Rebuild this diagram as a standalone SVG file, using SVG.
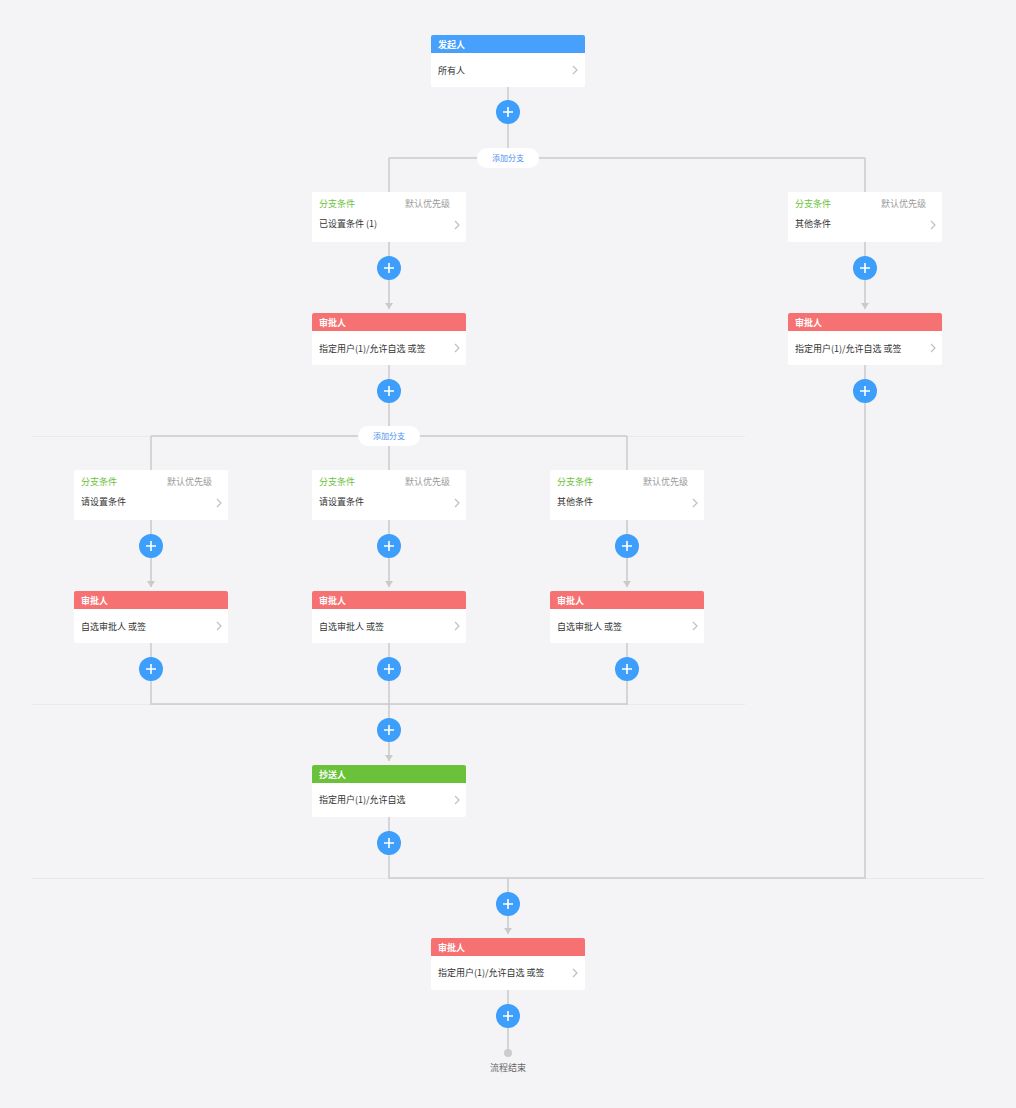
<svg xmlns="http://www.w3.org/2000/svg" width="1016" height="1108" viewBox="0 0 1016 1108">
<defs>
<style>
text{font-family:"Noto Sans CJK SC","Liberation Sans",sans-serif;font-size:9px}
.card{fill:#fff}
.hb{fill:#46a0fc}.hr{fill:#f67171}.hg{fill:#6ac23b}
.ht{fill:#fff;font-weight:bold}
.bt{fill:#333}
.ct{fill:#6ac23b}
.pt{fill:#9a9a9a;text-anchor:end}
.chev{fill:none;stroke:#c0c0c0;stroke-width:1.2}
.ln{stroke:#cacaca;stroke-width:1.5;fill:none}
.faint{stroke:#e9e9ec;stroke-width:1;fill:none}
.plus circle{fill:#3d9efc}
.plus path{stroke:#fff;stroke-width:1.6}
.pill rect{fill:#fff}
.pill text{fill:#4a90f0;text-anchor:middle;font-size:8px}
</style>
<marker id="arr" markerWidth="6" markerHeight="8" refX="6" refY="4" orient="auto" markerUnits="userSpaceOnUse" viewBox="0 0 6 8">
<path d="M0,0 L6,4 L0,8 Z" fill="#cacaca"/>
</marker>
</defs>
<rect width="1016" height="1108" fill="#f4f4f6"/>

<g id="dividers">
<line class="faint" x1="32" y1="436.5" x2="745" y2="436.5"/>
<line class="faint" x1="32" y1="704.5" x2="745" y2="704.5"/>
<line class="faint" x1="32" y1="878.5" x2="984" y2="878.5"/>
</g>

<g id="connectors">
<path class="ln" d="M508,87 V158 M389,158 H865 M389,158 V192 M865,158 V192"/>
<path class="ln" d="M389,242 V309" marker-end="url(#arr)"/>
<path class="ln" d="M865,242 V309" marker-end="url(#arr)"/>
<path class="ln" d="M389,365 V436 M151,436 H627 M151,436 V470 M389,436 V470 M627,436 V470"/>
<path class="ln" d="M151,520 V587" marker-end="url(#arr)"/>
<path class="ln" d="M389,520 V587" marker-end="url(#arr)"/>
<path class="ln" d="M627,520 V587" marker-end="url(#arr)"/>
<path class="ln" d="M151,643 V704 H627 V643 M389,643 V704"/>
<path class="ln" d="M389,704 V761" marker-end="url(#arr)"/>
<path class="ln" d="M389,817 V878 H865 V365"/>
<path class="ln" d="M508,878 V934" marker-end="url(#arr)"/>
<path class="ln" d="M508,990 V1053"/>
</g>

<g id="start">
<rect class="card" x="431" y="35" width="154" height="52" rx="2"/>
<path class="hb" d="M433,35 H583 A2,2 0 0 1 585,37 V53 H431 V37 A2,2 0 0 1 433,35 Z"/>
<text class="ht" x="438" y="48">发起人</text>
<text class="bt" x="438" y="74">所有人</text>
<polyline class="chev" points="573,66 577,70 573,74"/>
</g>

<g id="add1" class="plus"><circle cx="508" cy="112" r="12"/><path d="M503,112 H513 M508,107 V117"/></g>
<g id="branch1" class="pill"><rect x="477" y="148" width="62" height="20" rx="10"/><text x="508" y="161">添加分支</text></g>

<g id="cond1">
<rect class="card" x="312" y="192" width="154" height="50" rx="2"/>
<text class="ct" x="319" y="207">分支条件</text>
<text class="pt" x="450" y="207">默认优先级</text>
<text class="bt" x="319" y="227">已设置条件 (1)</text>
<polyline class="chev" points="455,221 459,225 455,229"/>
</g>
<g id="cond2">
<rect class="card" x="788" y="192" width="154" height="50" rx="2"/>
<text class="ct" x="795" y="207">分支条件</text>
<text class="pt" x="926" y="207">默认优先级</text>
<text class="bt" x="795" y="227">其他条件</text>
<polyline class="chev" points="931,221 935,225 931,229"/>
</g>

<g id="add2" class="plus"><circle cx="389" cy="268" r="12"/><path d="M384,268 H394 M389,263 V273"/></g>
<g id="add3" class="plus"><circle cx="865" cy="268" r="12"/><path d="M860,268 H870 M865,263 V273"/></g>

<g id="approver1">
<rect class="card" x="312" y="313" width="154" height="52" rx="2"/>
<path class="hr" d="M314,313 H464 A2,2 0 0 1 466,315 V331 H312 V315 A2,2 0 0 1 314,313 Z"/>
<text class="ht" x="319" y="326">审批人</text>
<text class="bt" x="319" y="352">指定用户(1)/允许自选 或签</text>
<polyline class="chev" points="455,344 459,348 455,352"/>
</g>
<g id="approver2">
<rect class="card" x="788" y="313" width="154" height="52" rx="2"/>
<path class="hr" d="M790,313 H940 A2,2 0 0 1 942,315 V331 H788 V315 A2,2 0 0 1 790,313 Z"/>
<text class="ht" x="795" y="326">审批人</text>
<text class="bt" x="795" y="352">指定用户(1)/允许自选 或签</text>
<polyline class="chev" points="931,344 935,348 931,352"/>
</g>

<g id="add4" class="plus"><circle cx="389" cy="391" r="12"/><path d="M384,391 H394 M389,386 V396"/></g>
<g id="add5" class="plus"><circle cx="865" cy="391" r="12"/><path d="M860,391 H870 M865,386 V396"/></g>
<g id="branch2" class="pill"><rect x="358" y="426" width="62" height="20" rx="10"/><text x="389" y="439">添加分支</text></g>

<g id="cond3">
<rect class="card" x="74" y="470" width="154" height="50" rx="2"/>
<text class="ct" x="81" y="485">分支条件</text>
<text class="pt" x="212" y="485">默认优先级</text>
<text class="bt" x="81" y="505">请设置条件</text>
<polyline class="chev" points="217,499 221,503 217,507"/>
</g>
<g id="cond4">
<rect class="card" x="312" y="470" width="154" height="50" rx="2"/>
<text class="ct" x="319" y="485">分支条件</text>
<text class="pt" x="450" y="485">默认优先级</text>
<text class="bt" x="319" y="505">请设置条件</text>
<polyline class="chev" points="455,499 459,503 455,507"/>
</g>
<g id="cond5">
<rect class="card" x="550" y="470" width="154" height="50" rx="2"/>
<text class="ct" x="557" y="485">分支条件</text>
<text class="pt" x="688" y="485">默认优先级</text>
<text class="bt" x="557" y="505">其他条件</text>
<polyline class="chev" points="693,499 697,503 693,507"/>
</g>

<g id="add6" class="plus"><circle cx="151" cy="546" r="12"/><path d="M146,546 H156 M151,541 V551"/></g>
<g id="add7" class="plus"><circle cx="389" cy="546" r="12"/><path d="M384,546 H394 M389,541 V551"/></g>
<g id="add8" class="plus"><circle cx="627" cy="546" r="12"/><path d="M622,546 H632 M627,541 V551"/></g>

<g id="approver3">
<rect class="card" x="74" y="591" width="154" height="52" rx="2"/>
<path class="hr" d="M76,591 H226 A2,2 0 0 1 228,593 V609 H74 V593 A2,2 0 0 1 76,591 Z"/>
<text class="ht" x="81" y="604">审批人</text>
<text class="bt" x="81" y="630">自选审批人 或签</text>
<polyline class="chev" points="217,622 221,626 217,630"/>
</g>
<g id="approver4">
<rect class="card" x="312" y="591" width="154" height="52" rx="2"/>
<path class="hr" d="M314,591 H464 A2,2 0 0 1 466,593 V609 H312 V593 A2,2 0 0 1 314,591 Z"/>
<text class="ht" x="319" y="604">审批人</text>
<text class="bt" x="319" y="630">自选审批人 或签</text>
<polyline class="chev" points="455,622 459,626 455,630"/>
</g>
<g id="approver5">
<rect class="card" x="550" y="591" width="154" height="52" rx="2"/>
<path class="hr" d="M552,591 H702 A2,2 0 0 1 704,593 V609 H550 V593 A2,2 0 0 1 552,591 Z"/>
<text class="ht" x="557" y="604">审批人</text>
<text class="bt" x="557" y="630">自选审批人 或签</text>
<polyline class="chev" points="693,622 697,626 693,630"/>
</g>

<g id="add9" class="plus"><circle cx="151" cy="669" r="12"/><path d="M146,669 H156 M151,664 V674"/></g>
<g id="add10" class="plus"><circle cx="389" cy="669" r="12"/><path d="M384,669 H394 M389,664 V674"/></g>
<g id="add11" class="plus"><circle cx="627" cy="669" r="12"/><path d="M622,669 H632 M627,664 V674"/></g>

<g id="add12" class="plus"><circle cx="389" cy="730" r="12"/><path d="M384,730 H394 M389,725 V735"/></g>

<g id="cc">
<rect class="card" x="312" y="765" width="154" height="52" rx="2"/>
<path class="hg" d="M314,765 H464 A2,2 0 0 1 466,767 V783 H312 V767 A2,2 0 0 1 314,765 Z"/>
<text class="ht" x="319" y="778">抄送人</text>
<text class="bt" x="319" y="803">指定用户(1)/允许自选</text>
<polyline class="chev" points="455,796 459,800 455,804"/>
</g>

<g id="add13" class="plus"><circle cx="389" cy="843" r="12"/><path d="M384,843 H394 M389,838 V848"/></g>
<g id="add14" class="plus"><circle cx="508" cy="904" r="12"/><path d="M503,904 H513 M508,899 V909"/></g>

<g id="approver6">
<rect class="card" x="431" y="938" width="154" height="52" rx="2"/>
<path class="hr" d="M433,938 H583 A2,2 0 0 1 585,940 V956 H431 V940 A2,2 0 0 1 433,938 Z"/>
<text class="ht" x="438" y="951">审批人</text>
<text class="bt" x="438" y="976">指定用户(1)/允许自选 或签</text>
<polyline class="chev" points="573,969 577,973 573,977"/>
</g>

<g id="add15" class="plus"><circle cx="508" cy="1016" r="12"/><path d="M503,1016 H513 M508,1011 V1021"/></g>

<g id="end">
<circle cx="508" cy="1053" r="4" fill="#cccccc"/>
<text x="508" y="1071" text-anchor="middle" fill="#666">流程结束</text>
</g>
</svg>
